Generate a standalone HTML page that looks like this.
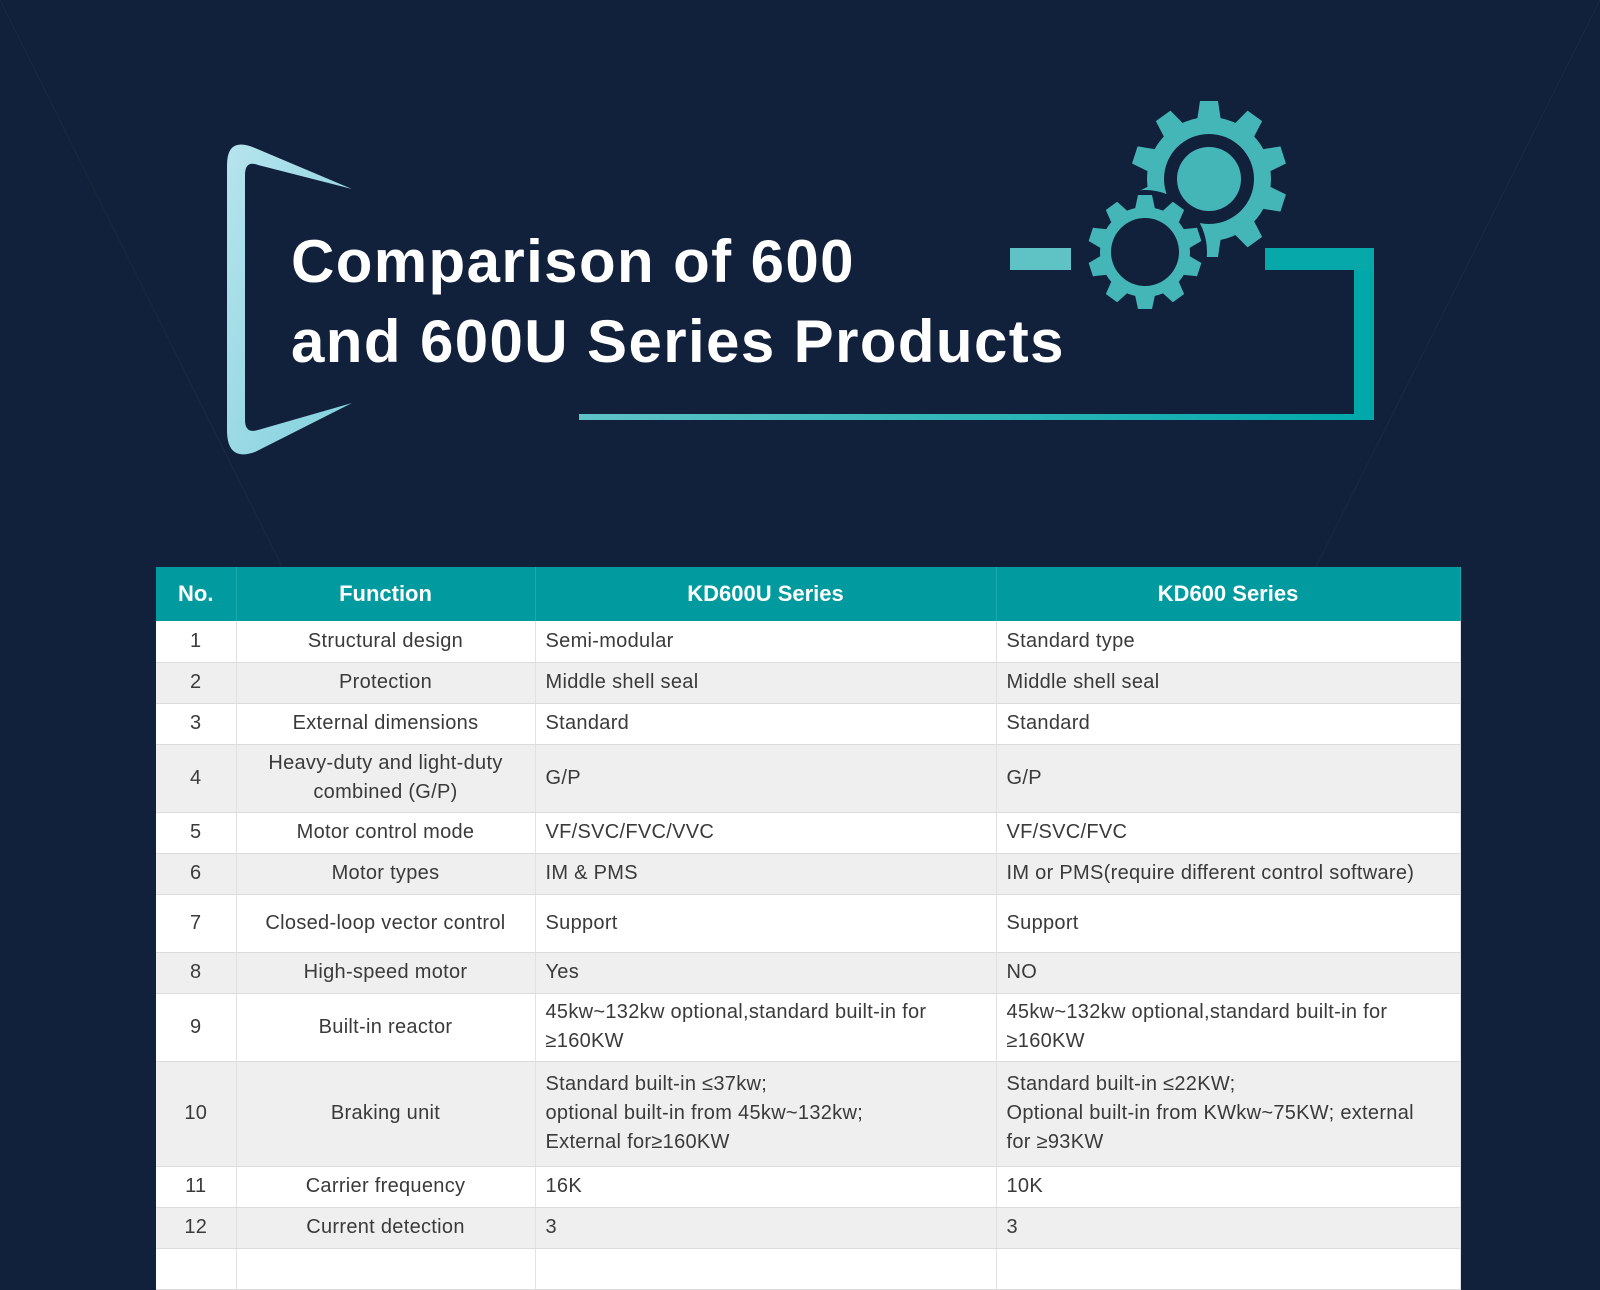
<!DOCTYPE html>
<html><head><meta charset="utf-8"><style>
html,body{margin:0;padding:0;}
body{width:1600px;height:1256px;background:#11203b;position:relative;overflow:hidden;font-family:"Liberation Sans",sans-serif;}
.title{position:absolute;left:291px;top:222px;color:#fff;font-weight:bold;font-size:60px;line-height:80px;letter-spacing:1.4px;}
table{position:absolute;left:156px;top:567px;width:1304px;border-collapse:collapse;table-layout:fixed;}
th{background:#009a9f;color:#fff;font-size:22px;font-weight:bold;height:54px;padding:0;border-right:1px solid #1aa9ad;}
td{font-size:20px;color:#3a3a3a;padding:0 10px;border-right:1px solid #e2e2e2;border-bottom:1px solid #dcdcdc;line-height:29px;letter-spacing:0.3px;}
td.c{text-align:center;padding:0;}
tr:nth-child(odd) td{background:#efefef;}
tr:nth-child(even) td{background:#fff;}
</style></head><body>
<svg width="1600" height="1256" style="position:absolute;left:0;top:0">
<defs>
<linearGradient id="g" x1="0" y1="0" x2="1" y2="0"><stop offset="0" stop-color="#5fc3c6"/><stop offset="1" stop-color="#00a8aa"/></linearGradient>
<linearGradient id="b" x1="0" y1="0" x2="1" y2="1"><stop offset="0" stop-color="#b7e4ee"/><stop offset="1" stop-color="#7fd0dc"/></linearGradient>
</defs>
<line x1="0" y1="0" x2="282" y2="567" stroke="#18273f" stroke-width="1.5"/>
<line x1="1600" y1="0" x2="1316" y2="567" stroke="#18273f" stroke-width="1.5"/>
<path d="M352,189 L255,148 Q227,136 227,165 L227,430 Q227,462 255,452 L352,403 L258,430 Q245,434 245,420 L245,175 Q245,160 258,165 Z" fill="url(#b)"/>
<rect x="579" y="414" width="795" height="6" fill="url(#g)"/>
<rect x="1354" y="248" width="20" height="172" fill="#00a8aa"/>
<rect x="1265" y="248" width="109" height="22" fill="#07a8aa"/>
<rect x="1010" y="248" width="61" height="22" fill="#5fc3c6"/>
<g fill="#45b6b8">
<g transform="translate(1209,179)">
<circle r="62"/>
<g id="t1"><path d="M-12,-58 L-9,-78 L9,-78 L12,-58 Z"/></g>
<use href="#t1" transform="rotate(36)"/><use href="#t1" transform="rotate(72)"/><use href="#t1" transform="rotate(108)"/><use href="#t1" transform="rotate(144)"/><use href="#t1" transform="rotate(180)"/><use href="#t1" transform="rotate(216)"/><use href="#t1" transform="rotate(252)"/><use href="#t1" transform="rotate(288)"/><use href="#t1" transform="rotate(324)"/>
<circle r="45" fill="#11203b"/>
<circle r="32"/>
</g>
<g transform="translate(1145,252)">
<circle r="62" fill="#11203b"/>
<circle r="45"/>
<g id="t2"><path d="M-10,-43 L-7,-57 L7,-57 L10,-43 Z"/></g>
<use href="#t2" transform="rotate(36)"/><use href="#t2" transform="rotate(72)"/><use href="#t2" transform="rotate(108)"/><use href="#t2" transform="rotate(144)"/><use href="#t2" transform="rotate(180)"/><use href="#t2" transform="rotate(216)"/><use href="#t2" transform="rotate(252)"/><use href="#t2" transform="rotate(288)"/><use href="#t2" transform="rotate(324)"/>
<circle r="34" fill="#11203b"/>
</g>
</g>
</svg>
<div class="title">Comparison of 600<br>and 600U Series Products</div>
<table>
<colgroup><col style="width:80px"><col style="width:299px"><col style="width:461px"><col style="width:464px"></colgroup>
<tr><th>No.</th><th>Function</th><th>KD600U Series</th><th>KD600 Series</th></tr>
<tr style="height:41px"><td class="c">1</td><td class="c">Structural design</td><td>Semi-modular</td><td>Standard type</td></tr>
<tr style="height:41px"><td class="c">2</td><td class="c">Protection</td><td>Middle shell seal</td><td>Middle shell seal</td></tr>
<tr style="height:41px"><td class="c">3</td><td class="c">External dimensions</td><td>Standard</td><td>Standard</td></tr>
<tr style="height:68px"><td class="c">4</td><td class="c">Heavy-duty and light-duty<br>combined (G/P)</td><td>G/P</td><td>G/P</td></tr>
<tr style="height:41px"><td class="c">5</td><td class="c">Motor control mode</td><td>VF/SVC/FVC/VVC</td><td>VF/SVC/FVC</td></tr>
<tr style="height:41px"><td class="c">6</td><td class="c">Motor types</td><td>IM &amp; PMS</td><td>IM or PMS(require different control software)</td></tr>
<tr style="height:58px"><td class="c">7</td><td class="c">Closed-loop vector control</td><td>Support</td><td>Support</td></tr>
<tr style="height:41px"><td class="c">8</td><td class="c">High-speed motor</td><td>Yes</td><td>NO</td></tr>
<tr style="height:68px"><td class="c">9</td><td class="c">Built-in reactor</td><td>45kw~132kw optional,standard built-in for<br>≥160KW</td><td>45kw~132kw optional,standard built-in for<br>≥160KW</td></tr>
<tr style="height:105px"><td class="c">10</td><td class="c">Braking unit</td><td>Standard built-in ≤37kw;<br>optional built-in from 45kw~132kw;<br>External for≥160KW</td><td>Standard built-in ≤22KW;<br>Optional built-in from KWkw~75KW; external<br>for ≥93KW</td></tr>
<tr style="height:41px"><td class="c">11</td><td class="c">Carrier frequency</td><td>16K</td><td>10K</td></tr>
<tr style="height:41px"><td class="c">12</td><td class="c">Current detection</td><td>3</td><td>3</td></tr>
<tr style="height:41px"><td class="c">&nbsp;</td><td class="c"></td><td></td><td></td></tr>
</table>
</body></html>
